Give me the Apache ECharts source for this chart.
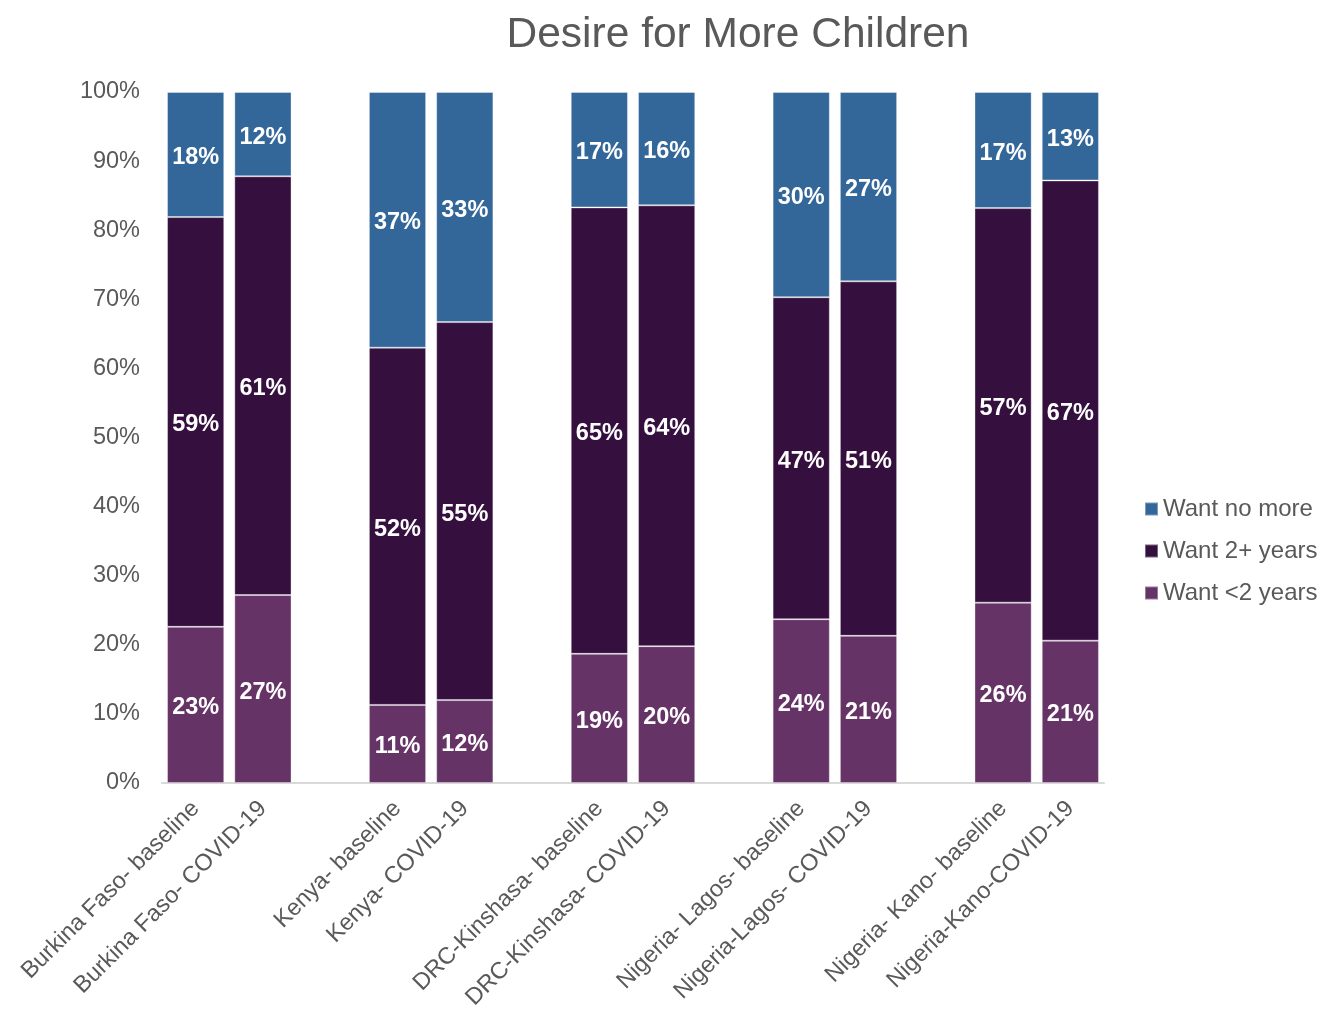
<!DOCTYPE html>
<html>
<head>
<meta charset="utf-8">
<script src="https://cdn.jsdelivr.net/npm/echarts@6/dist/echarts.min.js"></script>
<style>
  html, body { margin: 0; padding: 0; background: #fff; }
  #chart { width: 1319px; height: 1013px; }
</style>
</head>
<body>
<div id="chart"></div>
<script>
// categories (blank entries are the gaps between country pairs)
var categories = [
  "Burkina Faso- baseline", "Burkina Faso- COVID-19", "",
  "Kenya- baseline", "Kenya- COVID-19", "",
  "DRC-Kinshasa- baseline", "DRC-Kinshasa- COVID-19", "",
  "Nigeria- Lagos- baseline", "Nigeria-Lagos- COVID-19", "",
  "Nigeria- Kano- baseline", "Nigeria-Kano-COVID-19"
];
var wantLess2 = [22.6, 27.2, null, 11.3, 12.0, null, 18.7, 19.8, null, 23.7, 21.3, null, 26.1, 20.6];
var want2Plus = [59.3, 60.6, null, 51.7, 54.7, null, 64.6, 63.8, null, 46.6, 51.3, null, 57.1, 66.6];
var wantNoMore = [18.1, 12.2, null, 37.0, 33.3, null, 16.7, 16.4, null, 29.7, 27.4, null, 16.8, 12.8];
var yTicks = [0, 10, 20, 30, 40, 50, 60, 70, 80, 90, 100];

var font = "Liberation Sans, Arial, sans-serif";
var grey = "#595959";

var myChart = echarts.init(document.getElementById("chart"));

function makeSeries(name, data, color) {
  return {
    name: name,
    type: "bar",
    stack: "total",
    data: data,
    barCategoryGap: "15%",
    itemStyle: {
      color: color,
      borderColor: "rgba(255,255,255,0.35)",
      borderWidth: 1
    },
    label: {
      show: true,
      position: "inside",
      offset: [0, 3],
      color: "#fff",
      fontFamily: font,
      fontWeight: "bold",
      fontSize: 23.5,
      formatter: function(p) {
        return Math.round(p.value) + "%";
      }
    }
  };
}

var option = {
  backgroundColor: "#fff",
  animation: false,
  title: {
    text: "Desire for More Children",
    left: 733,
    top: 9,
    textAlign: "center",
    textStyle: {
      color: grey,
      fontFamily: font,
      fontWeight: "normal",
      fontSize: 42.5
    }
  },
  legend: {
    orient: "vertical",
    left: 1139,
    top: 492,
    itemWidth: 13,
    itemHeight: 13,
    itemGap: 18,
    icon: "rect",
    data: ["Want no more", "Want 2+ years", "Want <2 years"],
    textStyle: {
      color: grey,
      fontFamily: font,
      fontSize: 24,
      padding: [0, 0, 0, 0]
    }
  },
  grid: {
    left: 162,
    right: 215,
    top: 92,
    bottom: 230,
    containLabel: false,
    outerBoundsMode: "none"
  },
  xAxis: {
    type: "category",
    data: categories,
    axisLine: { lineStyle: { color: "#D9D9D9", width: 2 } },
    axisTick: { show: false },
    axisLabel: {
      interval: 0,
      rotate: 45,
      margin: 22,
      color: grey,
      fontFamily: font,
      fontSize: 23.5
    }
  },
  yAxis: {
    type: "value",
    min: yTicks[0],
    max: yTicks[yTicks.length - 1],
    interval: 10,
    splitLine: { show: false },
    axisLine: { show: false },
    axisTick: { show: false },
    axisLabel: {
      margin: 22,
      color: grey,
      fontFamily: font,
      fontSize: 23.5,
      formatter: "{value}%"
    }
  },
  series: [
    makeSeries("Want <2 years", wantLess2, "#663366"),
    makeSeries("Want 2+ years", want2Plus, "#35103F"),
    makeSeries("Want no more", wantNoMore, "#336699")
  ]
};

myChart.setOption(option);
</script>
</body>
</html>
